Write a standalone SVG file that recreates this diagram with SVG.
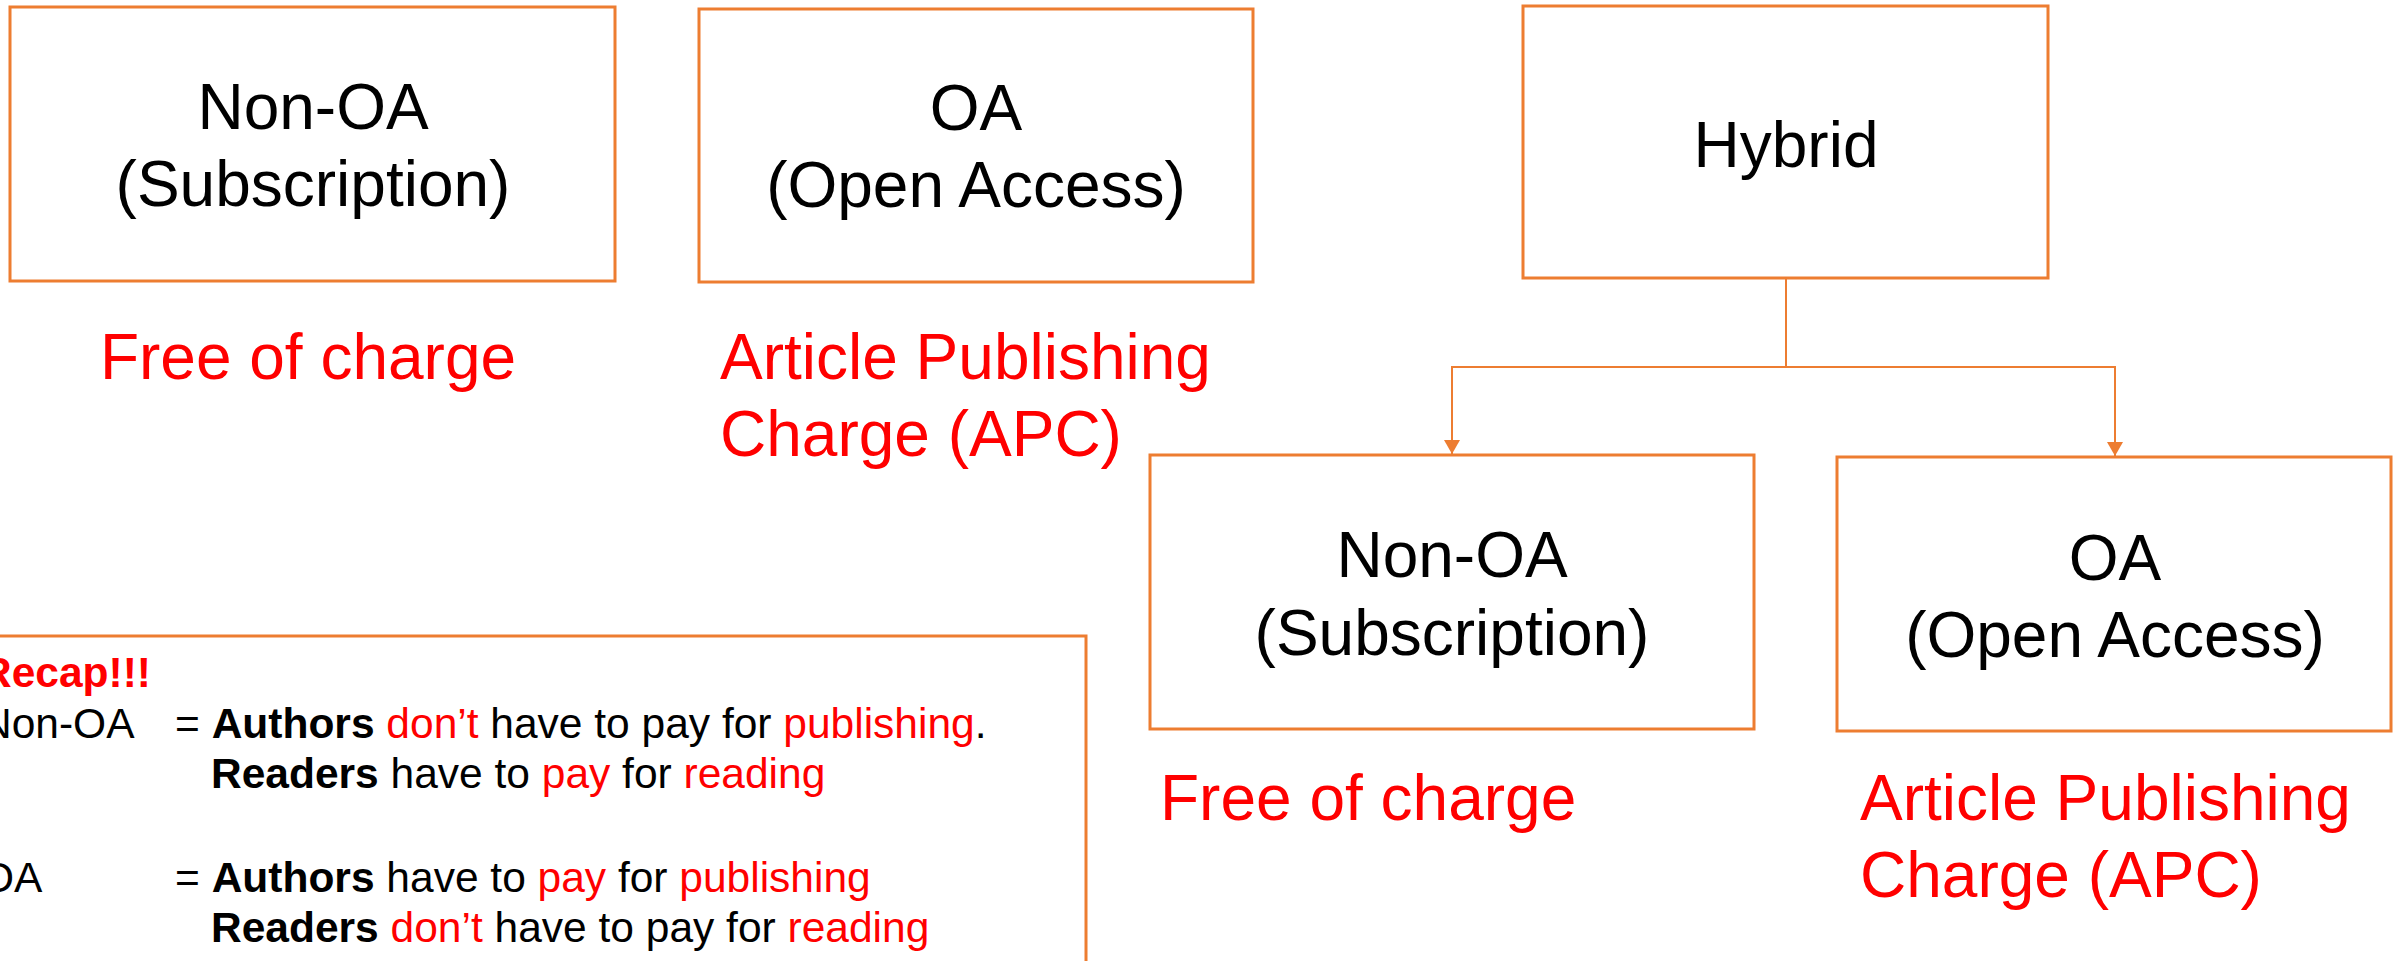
<svg xmlns="http://www.w3.org/2000/svg" width="2399" height="961" viewBox="0 0 2399 961">
<defs>
<style>
.box{fill:#fff;stroke:#ED7D31;stroke-width:3}
.conn{fill:none;stroke:#ED7D31;stroke-width:2}
.t{font-family:"Liberation Sans",Arial,sans-serif;font-size:64px;fill:#000;text-anchor:middle}
.r{font-family:"Liberation Sans",Arial,sans-serif;font-size:64px;fill:#FF0000}
.rc{font-family:"Liberation Sans",Arial,sans-serif;font-size:42.5px;fill:#000}
.red{fill:#FF0000}
.b{font-weight:bold}
</style>
<marker id="arr" viewBox="0 0 14 16" refX="14" refY="8" markerWidth="14" markerHeight="16" markerUnits="userSpaceOnUse" orient="auto">
<path d="M0,0 L14,8 L0,16 Z" fill="#ED7D31"/>
</marker>
</defs>
<rect width="2399" height="961" fill="#fff"/>

<g id="nonoa-top">
<rect class="box" x="10" y="7" width="605" height="274"/>
<text class="t" x="313" y="129">Non-OA</text>
<text class="t" x="313" y="206">(Subscription)</text>
<text class="r" x="308" y="379" text-anchor="middle">Free of charge</text>
</g>

<g id="oa-top">
<rect class="box" x="699" y="9" width="554" height="273"/>
<text class="t" x="976" y="130">OA</text>
<text class="t" x="976" y="207">(Open Access)</text>
<text class="r" x="720" y="379">Article Publishing</text>
<text class="r" x="720" y="456">Charge (APC)</text>
</g>

<g id="hybrid">
<rect class="box" x="1523" y="6" width="525" height="272"/>
<text class="t" x="1786" y="167">Hybrid</text>
</g>

<g id="connectors">
<path class="conn" d="M1786,278 V367 H1452 V454" marker-end="url(#arr)"/>
<path class="conn" d="M1786,367 H2115 V456" marker-end="url(#arr)"/>
</g>

<g id="nonoa-bottom">
<rect class="box" x="1150" y="455" width="604" height="274"/>
<text class="t" x="1452" y="577">Non-OA</text>
<text class="t" x="1452" y="655">(Subscription)</text>
<text class="r" x="1160" y="820">Free of charge</text>
</g>

<g id="oa-bottom">
<rect class="box" x="1837" y="457" width="554" height="274"/>
<text class="t" x="2115" y="580">OA</text>
<text class="t" x="2115" y="657">(Open Access)</text>
<text class="r" x="1860" y="820">Article Publishing</text>
<text class="r" x="1860" y="897">Charge (APC)</text>
</g>

<g id="recap">
<rect class="box" x="-20" y="636" width="1106" height="400"/>
<text class="rc b red" x="-19" y="687">Recap!!!</text>
<text class="rc" x="-19" y="738">Non-OA</text>
<text class="rc" x="175" y="738">= <tspan class="b">Authors</tspan> <tspan class="red">don’t</tspan> have to pay for <tspan class="red">publishing</tspan>.</text>
<text class="rc" x="211" y="788"><tspan class="b">Readers</tspan> have to <tspan class="red">pay</tspan> for <tspan class="red">reading</tspan></text>
<text class="rc" x="-19" y="892">OA</text>
<text class="rc" x="175" y="892">= <tspan class="b">Authors</tspan> have to <tspan class="red">pay</tspan> for <tspan class="red">publishing</tspan></text>
<text class="rc" x="211" y="942"><tspan class="b">Readers</tspan> <tspan class="red">don’t</tspan> have to pay for <tspan class="red">reading</tspan></text>
</g>
</svg>
